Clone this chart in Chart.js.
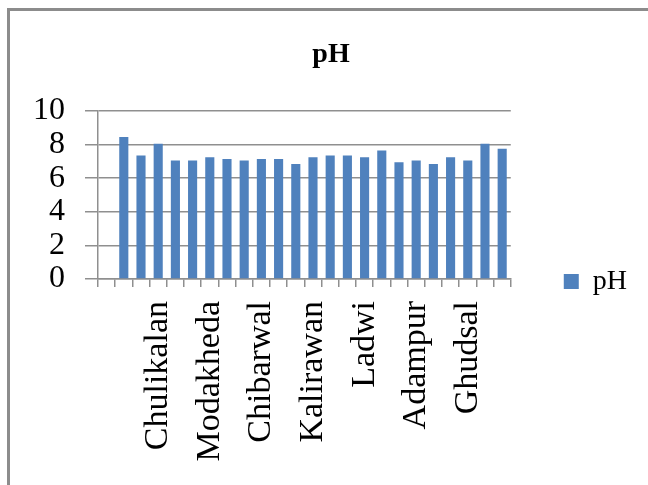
<!DOCTYPE html>
<html>
<head>
<meta charset="utf-8">
<script src="https://cdn.jsdelivr.net/npm/chart.js@4/dist/chart.umd.min.js"></script>
<style>
  html, body { margin: 0; padding: 0; background: #fff; overflow: hidden; }
  canvas { display: block; }
</style>
</head>
<body>
<canvas id="chart" width="648" height="485"></canvas>
<script>
// Sampling sites (only every third name is printed on the axis)
const sites = [
  '', '', '', 'Chulikalan', '', '', 'Modakheda', '', '', 'Chibarwal', '', '',
  'Kalirawan', '', '', 'Ladwi', '', '', 'Adampur', '', '', 'Ghudsal', '', ''
];

// pH measured at each site
const phValues = [
  null, 8.45, 7.35, 8.05, 7.05, 7.05, 7.25, 7.15, 7.05, 7.15, 7.15, 6.85,
  7.25, 7.35, 7.35, 7.25, 7.65, 6.95, 7.05, 6.85, 7.25, 7.05, 8.05, 7.75
];

const yTicks = [0, 2, 4, 6, 8, 10];

const GRID = '#8f8f8f';
const BAR = '#4F81BD';

// Grey frame along the left and top edges of the chart
const chartFrame = {
  id: 'chartFrame',
  afterDraw(chart) {
    const ctx = chart.ctx;
    ctx.save();
    ctx.strokeStyle = '#8c8c8c';
    ctx.lineWidth = 3;
    ctx.beginPath();
    ctx.moveTo(8.5, chart.height + 5);
    ctx.lineTo(8.5, 9.5);
    ctx.lineTo(chart.width + 5, 9.5);
    ctx.stroke();
    ctx.restore();
  }
};

// Keep the legend entry vertically centred beside the plot and its labels
const legendPlacement = {
  id: 'legendPlacement',
  afterLayout(chart) {
    const lg = chart.legend;
    if (!lg) return;
    const mid = (lg.top + lg.bottom) / 2;
    const shift = 281.5 - mid;
    lg.top += shift;
    lg.bottom += shift;
  }
};

new Chart(document.getElementById('chart'), {
  type: 'bar',
  data: {
    labels: sites,
    datasets: [{
      label: 'pH',
      data: phValues,
      backgroundColor: BAR,
      borderWidth: 0,
      categoryPercentage: 1,
      barPercentage: 0.53
    }]
  },
  options: {
    responsive: false,
    animation: false,
    devicePixelRatio: 1,
    layout: { padding: { left: 25, right: 11, top: 0, bottom: 0 } },
    plugins: {
      tooltip: { enabled: false },
      title: {
        display: true,
        text: 'pH',
        color: '#000',
        font: { family: 'Liberation Serif', size: 28, weight: 'bold' },
        padding: { top: 38, bottom: 39.4 }
      },
      legend: {
        display: true,
        position: 'right',
        labels: {
          color: '#000',
          font: { family: 'Liberation Serif', size: 28 },
          boxWidth: 15,
          boxHeight: 15,
          padding: 53
        }
      }
    },
    scales: {
      x: {
        grid: {
          display: true,
          drawOnChartArea: false,
          drawTicks: true,
          tickLength: 8,
          color: GRID,
          lineWidth: 1.5,
          offset: true
        },
        border: { display: true, color: GRID, width: 1.5 },
        ticks: {
          autoSkip: false,
          minRotation: 90,
          maxRotation: 90,
          padding: 14,
          color: '#000',
          font: { family: 'Liberation Serif', size: 34 }
        },
        afterFit(scale) { scale.height = 206; }
      },
      y: {
        min: 0,
        max: 10,
        afterBuildTicks(scale) { scale.ticks = yTicks.map(v => ({ value: v })); },
        grid: {
          color: GRID,
          lineWidth: 1.5,
          drawTicks: true,
          tickLength: 13
        },
        border: { display: true, color: GRID, width: 1.5 },
        ticks: {
          autoSkip: false,
          padding: 20,
          color: '#000',
          font: { family: 'Liberation Serif', size: 32 }
        },
        afterFit(scale) { scale.width = 73; }
      }
    }
  },
  plugins: [legendPlacement, chartFrame]
});
</script>
</body>
</html>
